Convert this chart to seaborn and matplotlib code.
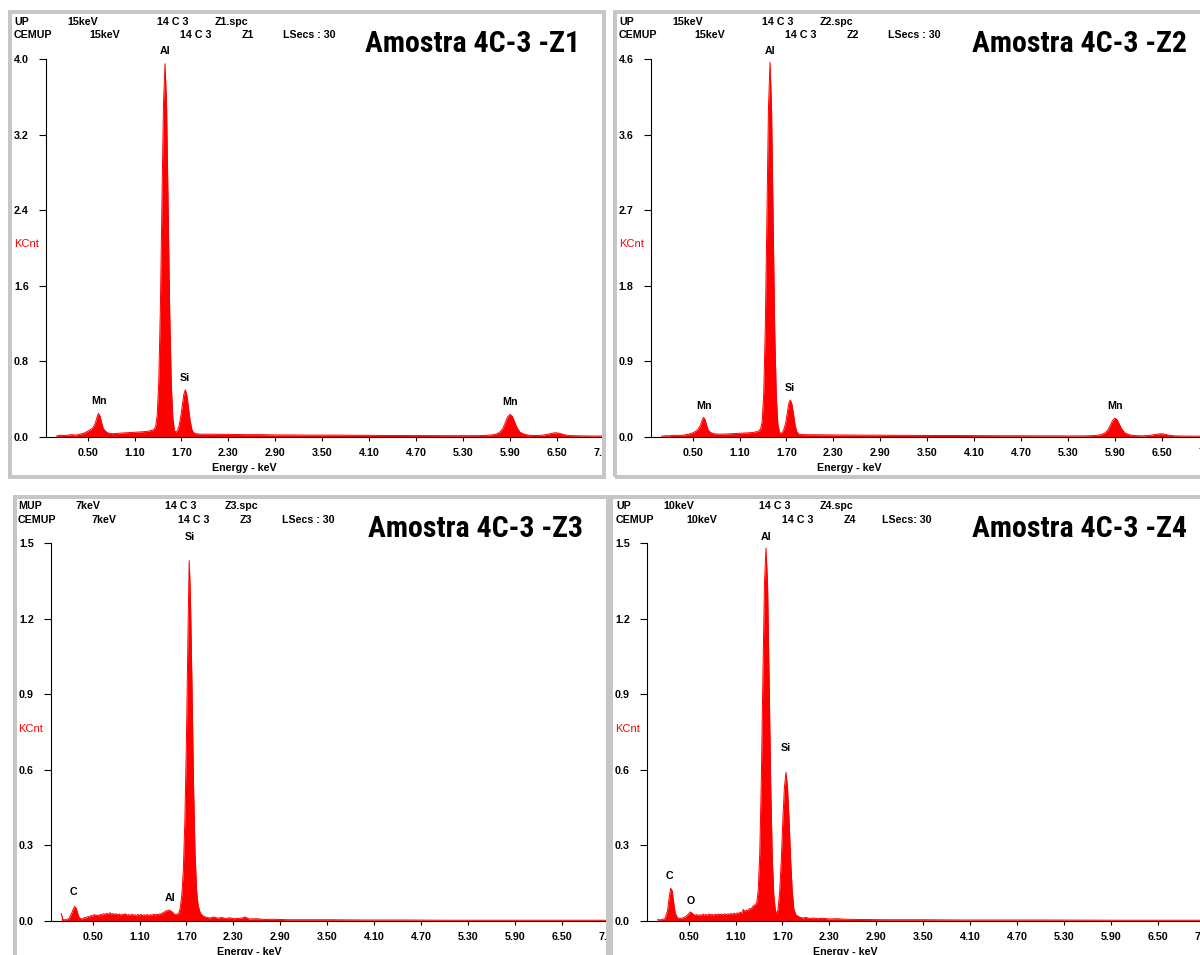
import matplotlib
matplotlib.use("Agg")
import numpy as np
import matplotlib.pyplot as plt
import seaborn as sns
from matplotlib import font_manager
from matplotlib.font_manager import FontProperties
from matplotlib.patches import Rectangle
from matplotlib.transforms import Bbox, TransformedBbox

# ------------------------------------------------------------------
# EDS spectra: energy (keV) and intensity (KCnt)
# ------------------------------------------------------------------
# Z1 and Z2 were acquired on the same channel grid
z12_energy = [
    0.10, 0.15, 0.20, 0.25, 0.30, 0.35, 0.40, 0.45, 0.50, 0.54,
    0.57, 0.60, 0.62, 0.64, 0.66, 0.68, 0.70, 0.73, 0.77, 0.82,
    0.90, 1.00, 1.10, 1.20, 1.27, 1.32, 1.35, 1.37, 1.39, 1.41,
    1.43, 1.45, 1.47, 1.49, 1.51, 1.53, 1.55, 1.57, 1.59, 1.61,
    1.63, 1.65, 1.67, 1.69, 1.71, 1.73, 1.75, 1.77, 1.79, 1.81,
    1.83, 1.85, 1.88, 1.95, 2.10, 2.30, 2.50, 2.70, 2.90, 3.10,
    3.30, 3.50, 3.70, 3.90, 4.10, 4.30, 4.50, 4.70, 4.90, 5.10,
    5.30, 5.50, 5.65, 5.72, 5.77, 5.81, 5.84, 5.87, 5.90, 5.93,
    5.96, 5.99, 6.03, 6.08, 6.15, 6.25, 6.33, 6.39, 6.44, 6.49,
    6.54, 6.59, 6.66, 6.80, 7.00, 7.10,
]
z1_kcnt = [
    0.010, 0.020, 0.015, 0.020, 0.025, 0.020, 0.030, 0.040, 0.060, 0.080,
    0.100, 0.150, 0.210, 0.250, 0.220, 0.150, 0.090, 0.060, 0.040, 0.035,
    0.040, 0.045, 0.050, 0.055, 0.060, 0.070, 0.080, 0.110, 0.230, 0.590,
    1.340, 2.450, 3.520, 3.950, 3.500, 2.420, 1.320, 0.560, 0.200, 0.070,
    0.050, 0.070, 0.120, 0.210, 0.330, 0.450, 0.500, 0.440, 0.310, 0.180,
    0.090, 0.050, 0.035, 0.030, 0.030, 0.028, 0.025, 0.025, 0.022, 0.022,
    0.020, 0.020, 0.020, 0.018, 0.018, 0.016, 0.016, 0.015, 0.015, 0.014,
    0.014, 0.014, 0.020, 0.030, 0.050, 0.090, 0.150, 0.210, 0.240, 0.220,
    0.160, 0.100, 0.050, 0.030, 0.018, 0.015, 0.020, 0.030, 0.040, 0.045,
    0.038, 0.025, 0.015, 0.012, 0.010, 0.010,
]
z2_kcnt = [
    0.010, 0.015, 0.015, 0.020, 0.020, 0.020, 0.025, 0.035, 0.050, 0.070,
    0.095, 0.140, 0.200, 0.240, 0.210, 0.140, 0.085, 0.055, 0.040, 0.035,
    0.035, 0.040, 0.045, 0.050, 0.055, 0.065, 0.075, 0.100, 0.190, 0.550,
    1.360, 2.660, 4.000, 4.560, 3.980, 2.630, 1.300, 0.500, 0.160, 0.060,
    0.040, 0.060, 0.100, 0.170, 0.290, 0.410, 0.450, 0.400, 0.280, 0.150,
    0.070, 0.040, 0.030, 0.028, 0.027, 0.025, 0.024, 0.022, 0.022, 0.020,
    0.020, 0.019, 0.018, 0.018, 0.017, 0.016, 0.015, 0.015, 0.014, 0.014,
    0.013, 0.013, 0.018, 0.028, 0.048, 0.085, 0.140, 0.200, 0.230, 0.210,
    0.150, 0.095, 0.048, 0.028, 0.017, 0.014, 0.018, 0.026, 0.035, 0.040,
    0.034, 0.022, 0.014, 0.011, 0.010, 0.010,
]
z3_energy = [
    0.10, 0.12, 0.16, 0.20, 0.23, 0.25, 0.27, 0.29, 0.31, 0.33,
    0.36, 0.38, 0.40, 0.42, 0.44, 0.46, 0.48, 0.50, 0.52, 0.54,
    0.56, 0.58, 0.60, 0.62, 0.64, 0.66, 0.68, 0.70, 0.72, 0.74,
    0.76, 0.78, 0.80, 0.82, 0.84, 0.86, 0.88, 0.90, 0.92, 0.94,
    0.96, 0.98, 1.00, 1.02, 1.04, 1.06, 1.08, 1.10, 1.12, 1.14,
    1.16, 1.18, 1.20, 1.22, 1.24, 1.26, 1.28, 1.30, 1.32, 1.34,
    1.36, 1.38, 1.40, 1.42, 1.44, 1.46, 1.48, 1.50, 1.52, 1.54,
    1.56, 1.58, 1.60,
    1.62, 1.64, 1.66, 1.68, 1.70, 1.72, 1.735, 1.75, 1.77, 1.79,
    1.81, 1.83, 1.85, 1.88,
    1.92, 1.96, 2.00, 2.05, 2.10, 2.15, 2.20, 2.25, 2.30, 2.40,
    2.45, 2.50, 2.60, 2.70, 2.80, 3.00, 3.50, 4.00, 4.50, 5.00,
    5.50, 6.00, 6.50, 7.10,
]
z3_kcnt = [
    0.030, 0.005, 0.005, 0.010, 0.030, 0.045, 0.058, 0.050, 0.030, 0.012,
    0.008, 0.010, 0.014, 0.012, 0.018, 0.016, 0.022, 0.019, 0.026, 0.021,
    0.024, 0.020, 0.027, 0.023, 0.029, 0.025, 0.031, 0.026, 0.033, 0.027,
    0.030, 0.025, 0.029, 0.024, 0.028, 0.023, 0.027, 0.025, 0.029, 0.022,
    0.026, 0.021, 0.027, 0.023, 0.025, 0.020, 0.026, 0.022, 0.027, 0.021,
    0.025, 0.022, 0.026, 0.021, 0.025, 0.023, 0.027, 0.024, 0.026, 0.025,
    0.029, 0.028, 0.033, 0.036, 0.041, 0.040, 0.044, 0.039, 0.036, 0.028,
    0.025, 0.027, 0.030,
    0.050, 0.100, 0.200, 0.400, 0.720, 1.150, 1.430, 1.300, 0.950, 0.550,
    0.270, 0.120, 0.060, 0.030,
    0.018, 0.014, 0.012, 0.016, 0.011, 0.014, 0.010, 0.013, 0.009, 0.011,
    0.016, 0.008, 0.009, 0.006, 0.007, 0.005, 0.005, 0.004, 0.004, 0.003,
    0.003, 0.003, 0.003, 0.003,
]
z4_energy = [
    0.10, 0.15, 0.20, 0.23, 0.25, 0.27, 0.29, 0.31, 0.33, 0.36,
    0.40, 0.45, 0.49, 0.52, 0.55,
    0.58, 0.60, 0.62, 0.64, 0.66, 0.68, 0.70, 0.72, 0.74, 0.76,
    0.78, 0.80, 0.82, 0.84, 0.86, 0.88, 0.90, 0.92, 0.94, 0.96,
    0.98, 1.00, 1.02, 1.04, 1.06, 1.08, 1.10, 1.12, 1.14, 1.16,
    1.18, 1.20, 1.22, 1.24, 1.26, 1.28, 1.30, 1.32, 1.34,
    1.37, 1.39, 1.41, 1.43, 1.45, 1.47, 1.49, 1.51, 1.53, 1.55,
    1.57, 1.59, 1.61, 1.63,
    1.645, 1.665, 1.685, 1.705, 1.725, 1.745, 1.765, 1.785, 1.805, 1.825,
    1.845, 1.87,
    1.92, 1.96, 2.00, 2.05, 2.10, 2.15, 2.20, 2.30, 2.40, 2.50,
    2.70, 3.00, 3.50, 4.00, 5.00, 6.00, 7.10,
]
z4_kcnt = [
    0.005, 0.005, 0.010, 0.040, 0.090, 0.130, 0.120, 0.070, 0.030, 0.012,
    0.010, 0.015, 0.025, 0.036, 0.030,
    0.022, 0.026, 0.021, 0.025, 0.022, 0.027, 0.023, 0.026, 0.022, 0.028,
    0.024, 0.026, 0.023, 0.027, 0.024, 0.028, 0.025, 0.027, 0.024, 0.029,
    0.025, 0.028, 0.026, 0.030, 0.026, 0.031, 0.027, 0.032, 0.030, 0.035,
    0.031, 0.046, 0.036, 0.044, 0.040, 0.050, 0.047, 0.058, 0.062,
    0.070, 0.120, 0.270, 0.560, 0.970, 1.340, 1.480, 1.330, 0.950, 0.540,
    0.250, 0.100, 0.040, 0.030,
    0.050, 0.120, 0.240, 0.400, 0.530, 0.590, 0.530, 0.400, 0.240, 0.120,
    0.050, 0.025,
    0.015, 0.012, 0.014, 0.010, 0.012, 0.009, 0.011, 0.008, 0.009, 0.007,
    0.006, 0.005, 0.005, 0.004, 0.004, 0.003, 0.003,
]

# element identifications: name, line energy (keV), label height (KCnt)
z1_peak_names = ["Mn", "Al", "Si", "Mn"]
z1_peak_energy = [0.64, 1.487, 1.74, 5.90]
z1_peak_label_kcnt = [0.381, 4.085, 0.624, 0.370]
z2_peak_names = ["Mn", "Al", "Si", "Mn"]
z2_peak_energy = [0.64, 1.487, 1.74, 5.90]
z2_peak_label_kcnt = [0.377, 4.700, 0.596, 0.377]
z3_peak_names = ["C", "Al", "Si"]
z3_peak_energy = [0.26, 1.487, 1.74]
z3_peak_label_kcnt = [0.115, 0.091, 1.524]
z4_peak_names = ["C", "O", "Al", "Si"]
z4_peak_energy = [0.26, 0.525, 1.487, 1.74]
z4_peak_label_kcnt = [0.179, 0.079, 1.524, 0.687]

# axis scales
x_tick_values = [0.50, 1.10, 1.70, 2.30, 2.90, 3.50, 4.10, 4.70, 5.30, 5.90, 6.50, 7.10]
x_tick_labels = ["0.50", "1.10", "1.70", "2.30", "2.90", "3.50", "4.10",
                 "4.70", "5.30", "5.90", "6.50", "7.10"]
full_scale_kcnt = [4.0, 4.6, 1.5, 1.5]
z1_ytick_labels = ["0.0", "0.8", "1.6", "2.4", "3.2", "4.0"]
z2_ytick_labels = ["0.0", "0.9", "1.8", "2.7", "3.6", "4.6"]
z3_ytick_labels = ["0.0", "0.3", "0.6", "0.9", "1.2", "1.5"]
z4_ytick_labels = ["0.0", "0.3", "0.6", "0.9", "1.2", "1.5"]

# acquisition header lines
z1_header = [["UP", "15keV", "14 C 3", "Z1.spc"], ["CEMUP", "15keV", "14 C 3", "Z1", "LSecs : 30"]]
z2_header = [["UP", "15keV", "14 C 3", "Z2.spc"], ["CEMUP", "15keV", "14 C 3", "Z2", "LSecs : 30"]]
z3_header = [["MUP", "7keV", "14 C 3", "Z3.spc"], ["CEMUP", "7keV", "14 C 3", "Z3", "LSecs : 30"]]
z4_header = [["UP", "10keV", "14 C 3", "Z4.spc"], ["CEMUP", "10keV", "14 C 3", "Z4", "LSecs: 30"]]
titles = ["Amostra 4C-3 -Z1", "Amostra 4C-3 -Z2", "Amostra 4C-3 -Z3", "Amostra 4C-3 -Z4"]

# ------------------------------------------------------------------
# fonts
# ------------------------------------------------------------------
sns.set_theme(style="white")
available = {f.name for f in font_manager.fontManager.ttflist}
SANS = "Liberation Sans" if "Liberation Sans" in available else "DejaVu Sans"
plt.rcParams["font.family"] = [SANS, "DejaVu Sans"]


def _is_bold(entry):
    w = entry.weight
    if isinstance(w, str):
        return w.lower() in ("bold", "heavy", "extra bold", "black", "semibold", "demibold")
    return w >= 600


def narrow_bold_font():
    """A bold condensed sans face for the sample titles, if one is installed."""
    entries = font_manager.fontManager.ttflist
    preferred = ["Liberation Sans Narrow", "Arial Narrow", "Roboto Condensed",
                 "Open Sans Condensed", "Noto Sans Condensed", "DejaVu Sans Condensed"]
    for name in preferred:
        for e in entries:
            if e.name == name and _is_bold(e) and e.style == "normal":
                return FontProperties(fname=e.fname)
    for e in entries:
        if (("Narrow" in e.name or "Condensed" in e.name or
             str(e.stretch) in ("condensed", "semi-condensed", "extra-condensed"))
                and _is_bold(e) and e.style == "normal"):
            return FontProperties(fname=e.fname)
    return FontProperties(family=SANS, weight="bold")


TITLE_FONT = narrow_bold_font()

W, H = 1200, 955
fig = plt.figure(figsize=(W / 100, H / 100), dpi=100)
fig.patch.set_facecolor("white")


def fx(x):
    return x / W


def fy(y):
    return 1 - y / H


SMALL = 7.7
RED = "#ff0000"
GRAY = "#c6c6c6"
TITLE_WIDTH_PX = 216

# panel layout in pixels
layout = [
    dict(border=(8, 10, 606, 479), axes=(46, 59, 604, 437), clip=(12, 14, 602, 475),
         rows_y=(22, 35), kcnt=(14, 244), title=(365, 44),
         row_x=([14, 67, 157, 215], [14, 89, 180, 242, 283])),
    dict(border=(613, 10, 1320, 479), axes=(651, 59, 1209, 437), clip=(617, 14, 1220, 475),
         rows_y=(22, 35), kcnt=(619, 244), title=(972, 44),
         row_x=([619, 672, 762, 820], [619, 694, 785, 847, 888])),
    dict(border=(13, 495, 610, 1060), axes=(51, 543, 609, 921), clip=(17, 499, 606, 1000),
         rows_y=(506, 520), kcnt=(18, 729), title=(368, 529),
         row_x=([18, 75, 165, 225], [18, 92, 178, 240, 282])),
    dict(border=(609, 495, 1320, 1060), axes=(647, 543, 1205, 921), clip=(613, 499, 1220, 1000),
         rows_y=(506, 520), kcnt=(615, 729), title=(972, 529),
         row_x=([616, 663, 759, 820], [616, 686, 782, 844, 882])),
]

spectra = [
    (z12_energy, z1_kcnt, z1_ytick_labels, z1_header, z1_peak_names, z1_peak_energy, z1_peak_label_kcnt),
    (z12_energy, z2_kcnt, z2_ytick_labels, z2_header, z2_peak_names, z2_peak_energy, z2_peak_label_kcnt),
    (z3_energy, z3_kcnt, z3_ytick_labels, z3_header, z3_peak_names, z3_peak_energy, z3_peak_label_kcnt),
    (z4_energy, z4_kcnt, z4_ytick_labels, z4_header, z4_peak_names, z4_peak_energy, z4_peak_label_kcnt),
]

PX_PER_KEV = 78.2
ORIGIN_OFFSET = 2.5  # pixels between the y axis and 0 keV

title_texts = []
for i, (lay, spec) in enumerate(zip(layout, spectra)):
    energy, kcnt, ylabels, header, pnames, penergy, plabel_y = spec
    ymax = full_scale_kcnt[i]
    l, t, r, b = lay["axes"]
    ax = fig.add_axes([fx(l), fy(b), (r - l) / W, (b - t) / H])
    ax.set_facecolor("none")

    x0 = -ORIGIN_OFFSET / PX_PER_KEV
    ax.set_xlim(x0, x0 + (r - l) / PX_PER_KEV)
    ax.set_ylim(0, ymax)

    # spectrum: filled profile
    ax.fill_between(energy, kcnt, 0, color=RED, linewidth=0, zorder=2)
    sns.lineplot(x=energy, y=kcnt, ax=ax, color=RED, linewidth=0.7,
                 estimator=None, sort=False, zorder=3)
    ax.set_xlabel("")
    ax.set_ylabel("")

    # element labels
    for name, e, ly in zip(pnames, penergy, plabel_y):
        ax.text(e, ly, name, ha="center", va="center", fontsize=SMALL,
                fontweight="bold", family=SANS, color="black", clip_on=False)

    # axes styling
    for s in ("top", "right"):
        ax.spines[s].set_visible(False)
    for s in ("left", "bottom"):
        ax.spines[s].set_color("black")
        ax.spines[s].set_linewidth(0.8)
    ax.grid(False)

    ax.set_xticks(x_tick_values)
    ax.set_xticklabels(x_tick_labels)
    ax.set_yticks(np.linspace(0, ymax, 6))
    ax.set_yticklabels(ylabels)
    ax.tick_params(axis="y", direction="out", length=5.0, width=0.8, pad=7.5,
                   labelsize=SMALL, color="black", labelcolor="black", left=True)
    ax.tick_params(axis="x", direction="out", length=3.0, width=0.8, pad=4.9,
                   labelsize=SMALL, color="black", labelcolor="black", bottom=True)

    # tick labels are cut at the inner edge of the panel frame
    cx0, cy0, cx1, cy1 = lay["clip"]
    clip_box = TransformedBbox(Bbox.from_extents(fx(cx0), fy(cy1), fx(cx1), fy(cy0)),
                               fig.transFigure)
    for lbl in ax.get_xticklabels() + ax.get_yticklabels():
        lbl.set_fontweight("bold")
        lbl.set_family(SANS)
        lbl.set_clip_on(True)
        lbl.set_clip_box(clip_box)

    # axis caption
    fig.text(fx(l + 198), fy(b + 31), "Energy - keV", ha="center", va="center",
             fontsize=SMALL, fontweight="bold", family=SANS, color="black")

    # unit label
    kx, ky = lay["kcnt"]
    fig.text(fx(kx), fy(ky), "KCnt", ha="left", va="center", fontsize=8,
             family=SANS, color=RED)

    # header rows
    for row, ry, xs in zip(header, lay["rows_y"], lay["row_x"]):
        for txt, tx in zip(row, xs):
            fig.text(fx(tx), fy(ry), txt, ha="left", va="center", fontsize=SMALL,
                     fontweight="bold", family=SANS, color="black")

    # sample title
    tx, ty = lay["title"]
    tt = fig.text(fx(tx), fy(ty), titles[i], ha="left", va="center",
                  fontproperties=TITLE_FONT, fontsize=23, color="black")
    title_texts.append(tt)

# size the sample titles to their printed width
renderer = fig.canvas.get_renderer()
for tt in title_texts:
    w = tt.get_window_extent(renderer).width
    if w > 0:
        tt.set_fontsize(23 * TITLE_WIDTH_PX / w)

# panel frames, drawn above the plots
for lay in layout:
    x0, y0, x1, y1 = lay["border"]
    lw_px = 4
    rect = Rectangle((fx(x0 + lw_px / 2), fy(y1 - lw_px / 2)),
                     (x1 - x0 - lw_px) / W, (y1 - y0 - lw_px) / H,
                     transform=fig.transFigure, fill=False, edgecolor=GRAY,
                     linewidth=lw_px * 0.72, zorder=10)
    fig.add_artist(rect)

fig.savefig("out.png", dpi=100, facecolor="white")
